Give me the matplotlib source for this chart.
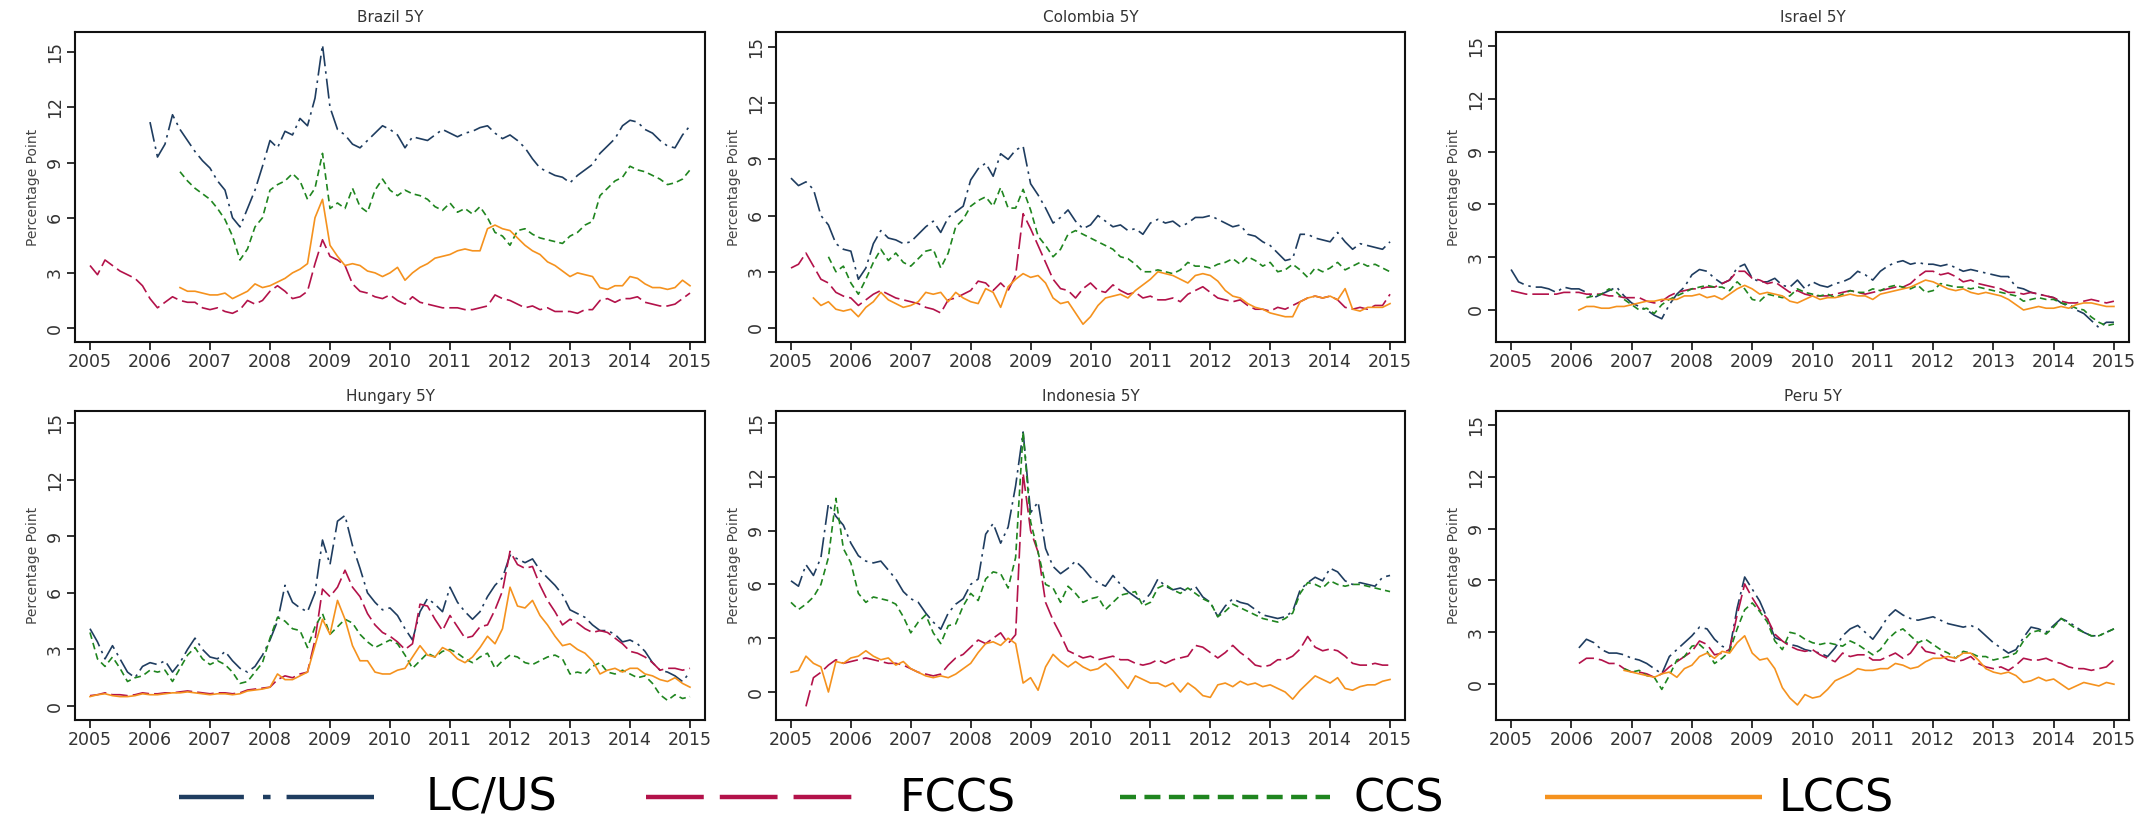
import numpy as np
import matplotlib
matplotlib.use("Agg")
import matplotlib.pyplot as plt
from matplotlib.lines import Line2D

# --- data: values read every 1/8 year, starting at the year given -------------
series_names = ["LC/US", "FCCS", "CCS", "LCCS"]
panel_titles = ["Brazil 5Y", "Colombia 5Y", "Israel 5Y", "Hungary 5Y", "Indonesia 5Y", "Peru 5Y"]
year_ticks = [2005, 2006, 2007, 2008, 2009, 2010, 2011, 2012, 2013, 2014, 2015]
y_ticks = [0, 3, 6, 9, 12, 15]

bra_start = [2006.0, 2005.0, 2006.5, 2006.5]
bra_lcus = [11.2, 9.3, 10.0, 11.6, 10.8, 10.2, 9.6, 9.1,
            8.7, 8.0, 7.5, 6.0, 5.5, 6.5, 7.5, 8.8,
            10.2, 9.8, 10.7, 10.5, 11.4, 11.0, 12.5, 15.4,
            12.0, 10.8, 10.5, 10.0, 9.8, 10.2, 10.6, 11.0,
            10.8, 10.5, 9.8, 10.4, 10.3, 10.2, 10.5, 10.8,
            10.6, 10.4, 10.6, 10.7, 10.9, 11.0, 10.6, 10.3,
            10.5, 10.2, 9.8, 9.2, 8.7, 8.5, 8.3, 8.2,
            7.9, 8.3, 8.6, 8.9, 9.5, 9.9, 10.3, 11.0,
            11.3, 11.2, 10.8, 10.6, 10.2, 9.9, 9.8, 10.5, 11.0]
bra_fccs = [3.4, 2.9, 3.7, 3.4, 3.1, 2.9, 2.7, 2.3,
            1.6, 1.1, 1.4, 1.7, 1.5, 1.4, 1.4, 1.1,
            1.0, 1.1, 0.9, 0.8, 1.0, 1.5, 1.3, 1.5,
            2.0, 2.3, 2.0, 1.6, 1.7, 2.0, 3.5, 4.8,
            3.9, 3.7, 3.4, 2.4, 2.0, 1.9, 1.7, 1.6,
            1.8, 1.5, 1.3, 1.7, 1.4, 1.3, 1.2, 1.1,
            1.1, 1.1, 1.0, 1.0, 1.1, 1.2, 1.8, 1.6,
            1.5, 1.3, 1.1, 1.2, 1.0, 1.1, 0.9, 0.9,
            0.9, 0.8, 1.0, 1.0, 1.5, 1.6, 1.4, 1.6,
            1.6, 1.7, 1.4, 1.3, 1.2, 1.2, 1.3, 1.6, 1.9]
bra_ccs = [8.5, 8.0, 7.6, 7.3,
           7.0, 6.5, 5.9, 5.0, 3.7, 4.3, 5.5, 6.0,
           7.5, 7.8, 8.0, 8.4, 8.0, 7.0, 7.6, 9.5,
           6.5, 6.8, 6.5, 7.6, 6.6, 6.3, 7.5, 8.1,
           7.5, 7.2, 7.5, 7.3, 7.2, 7.0, 6.6, 6.4,
           6.8, 6.3, 6.5, 6.2, 6.6, 6.0, 5.2, 5.0,
           4.5, 5.3, 5.4, 5.1, 4.9, 4.8, 4.7, 4.6,
           5.0, 5.2, 5.6, 5.8, 7.2, 7.6, 8.0, 8.2,
           8.8, 8.6, 8.5, 8.3, 8.1, 7.8, 7.9, 8.1, 8.6]
bra_lccs = [2.2, 2.0, 2.0, 1.9,
            1.8, 1.8, 1.9, 1.6, 1.8, 2.0, 2.4, 2.2,
            2.3, 2.5, 2.7, 3.0, 3.2, 3.5, 6.0, 7.0,
            4.5, 3.9, 3.4, 3.5, 3.4, 3.1, 3.0, 2.8,
            3.0, 3.3, 2.6, 3.0, 3.3, 3.5, 3.8, 3.9,
            4.0, 4.2, 4.3, 4.2, 4.2, 5.4, 5.6, 5.4,
            5.3, 4.9, 4.5, 4.2, 4.0, 3.6, 3.4, 3.1,
            2.8, 3.0, 2.9, 2.8, 2.2, 2.1, 2.3, 2.3,
            2.8, 2.7, 2.4, 2.2, 2.2, 2.1, 2.2, 2.6, 2.3]

col_start = [2005.0, 2005.0, 2005.625, 2005.375]
col_lcus = [8.0, 7.6, 7.8, 7.4, 6.0, 5.5, 4.5, 4.2,
            4.1, 2.6, 3.2, 4.5, 5.2, 4.8, 4.7, 4.5,
            4.6, 5.0, 5.4, 5.7, 5.1, 5.9, 6.2, 6.5,
            7.9, 8.5, 8.8, 8.1, 9.3, 9.0, 9.5, 9.7,
            7.7, 7.1, 6.4, 5.6, 5.9, 6.3, 5.7, 5.3,
            5.5, 6.0, 5.7, 5.4, 5.5, 5.2, 5.3, 5.0,
            5.6, 5.8, 5.6, 5.7, 5.4, 5.6, 5.9, 5.9,
            6.0, 5.8, 5.6, 5.4, 5.5, 5.0, 4.9, 4.6,
            4.4, 4.0, 3.6, 3.7, 5.0, 5.0, 4.8, 4.7,
            4.6, 5.1, 4.6, 4.2, 4.5, 4.4, 4.3, 4.2, 4.6]
col_fccs = [3.2, 3.4, 4.0, 3.3, 2.6, 2.4, 1.9, 1.7,
            1.6, 1.2, 1.5, 1.8, 2.0, 1.8, 1.6, 1.5,
            1.4, 1.3, 1.1, 1.0, 0.8, 1.5, 1.6, 1.8,
            2.0, 2.5, 2.4, 2.0, 2.4, 2.0, 2.8, 6.1,
            5.3, 4.4, 3.5, 2.6, 2.1, 2.0, 1.6, 2.1,
            2.4, 2.0, 1.9, 2.3, 2.0, 1.8, 1.9, 1.6,
            1.7, 1.5, 1.5, 1.6, 1.4, 1.8, 2.0, 2.2,
            1.9, 1.6, 1.5, 1.4, 1.5, 1.2, 1.0, 1.0,
            0.9, 1.1, 1.0, 1.2, 1.4, 1.6, 1.7, 1.6,
            1.7, 1.5, 1.1, 1.0, 1.1, 1.0, 1.2, 1.2, 1.8]
col_ccs = [3.8, 3.0, 3.3,
           2.4, 1.8, 2.6, 3.5, 4.2, 3.6, 4.0, 3.5,
           3.3, 3.7, 4.1, 4.2, 3.2, 4.0, 5.4, 5.8,
           6.5, 6.8, 7.0, 6.5, 7.5, 6.4, 6.4, 7.4,
           6.3, 4.9, 4.4, 3.8, 4.2, 5.0, 5.2, 5.0,
           4.8, 4.6, 4.4, 4.2, 3.8, 3.7, 3.4, 3.0,
           3.0, 3.1, 3.0, 2.9, 3.1, 3.5, 3.3, 3.3,
           3.2, 3.4, 3.5, 3.7, 3.4, 3.8, 3.6, 3.3,
           3.5, 3.0, 3.1, 3.4, 3.1, 2.7, 3.2, 3.0,
           3.2, 3.5, 3.1, 3.3, 3.5, 3.3, 3.4, 3.2, 3.0]
col_lccs = [1.6, 1.2, 1.4, 1.0, 0.9,
            1.0, 0.6, 1.1, 1.4, 1.9, 1.5, 1.3, 1.1,
            1.2, 1.4, 1.9, 1.8, 1.9, 1.4, 1.9, 1.6,
            1.4, 1.3, 2.1, 1.9, 1.1, 2.2, 2.6, 2.9,
            2.7, 2.8, 2.4, 1.6, 1.3, 1.4, 0.8, 0.2,
            0.6, 1.2, 1.6, 1.7, 1.8, 1.6, 2.0, 2.3,
            2.6, 3.0, 2.9, 2.8, 2.6, 2.4, 2.8, 2.9,
            2.8, 2.5, 2.0, 1.7, 1.6, 1.3, 1.1, 1.0,
            0.8, 0.7, 0.6, 0.6, 1.4, 1.6, 1.7, 1.6,
            1.7, 1.5, 2.1, 1.0, 0.9, 1.1, 1.1, 1.1, 1.3]

isr_start = [2005.0, 2005.0, 2006.25, 2006.125]
isr_lcus = [2.3, 1.6, 1.4, 1.3, 1.3, 1.2, 1.0, 1.3,
            1.2, 1.2, 1.0, 0.7, 0.9, 1.1, 1.3, 0.8,
            0.4, 0.2, 0.0, -0.3, -0.5, 0.3, 0.9, 1.3,
            2.0, 2.3, 2.2, 1.8, 1.5, 1.7, 2.4, 2.6,
            1.8, 1.6, 1.6, 1.8, 1.4, 1.3, 1.7, 1.2,
            1.6, 1.4, 1.3, 1.5, 1.6, 1.8, 2.2, 2.0,
            1.7, 2.2, 2.5, 2.7, 2.8, 2.6, 2.7, 2.6,
            2.6, 2.5, 2.6, 2.4, 2.2, 2.3, 2.2, 2.1,
            2.0, 1.9, 1.9, 1.3, 1.2, 1.0, 0.9, 0.8,
            0.7, 0.4, 0.2, 0.0, -0.2, -0.6, -1.0, -0.7, -0.7]
isr_fccs = [1.1, 1.0, 0.9, 0.9, 0.9, 0.9, 0.9, 1.0,
            1.0, 1.0, 0.9, 0.9, 0.9, 0.8, 0.8, 0.7,
            0.7, 0.7, 0.5, 0.4, 0.5, 0.8, 1.0, 1.1,
            1.2, 1.2, 1.3, 1.3, 1.5, 1.7, 2.2, 2.2,
            1.8, 1.7, 1.5, 1.6, 1.3, 1.0, 1.1, 0.9,
            0.8, 0.8, 0.8, 0.9, 1.0, 1.1, 1.0, 0.9,
            1.0, 1.1, 1.2, 1.3, 1.3, 1.5, 1.9, 2.2,
            2.2, 2.0, 2.1, 1.9, 1.6, 1.7, 1.5, 1.4,
            1.3, 1.2, 1.0, 1.0, 0.9, 1.0, 0.9, 0.8,
            0.7, 0.5, 0.4, 0.4, 0.5, 0.6, 0.5, 0.4, 0.5]
isr_ccs = [0.7, 0.8, 0.9, 1.2, 1.0, 0.6,
           0.3, 0.0, 0.1, -0.2, 0.3, 0.6, 0.8, 1.0,
           1.2, 1.3, 1.4, 1.3, 1.3, 1.1, 1.6, 1.2,
           0.6, 0.5, 0.9, 0.8, 0.7, 0.8, 1.2, 1.0,
           0.9, 0.8, 0.9, 0.7, 0.9, 1.1, 1.0, 1.0,
           1.2, 1.1, 1.3, 1.4, 1.3, 1.2, 1.4, 1.0,
           1.1, 1.5, 1.4, 1.3, 1.3, 1.2, 1.3, 1.2,
           1.1, 1.0, 0.9, 0.8, 0.5, 0.6, 0.7, 0.6,
           0.6, 0.4, 0.3, 0.1, 0.0, -0.4, -0.7, -0.9, -0.8]
isr_lccs = [0.0, 0.2, 0.2, 0.1, 0.1, 0.2, 0.2,
            0.3, 0.4, 0.5, 0.5, 0.6, 0.6, 0.6, 0.8,
            0.8, 0.9, 0.7, 0.8, 0.6, 0.9, 1.2, 1.4,
            1.2, 0.9, 1.0, 0.9, 0.8, 0.5, 0.4, 0.6,
            0.8, 0.6, 0.7, 0.7, 0.8, 0.9, 0.8, 0.8,
            0.6, 0.9, 1.0, 1.1, 1.2, 1.3, 1.5, 1.7,
            1.6, 1.4, 1.2, 1.1, 1.2, 1.0, 0.9, 1.0,
            0.9, 0.8, 0.6, 0.3, 0.0, 0.1, 0.2, 0.1,
            0.1, 0.2, 0.1, 0.3, 0.4, 0.4, 0.3, 0.2, 0.2]

hun_start = [2005.0, 2005.0, 2005.0, 2005.0]
hun_lcus = [4.1, 3.4, 2.5, 3.2, 2.5, 1.8, 1.5, 2.1,
            2.3, 2.2, 2.4, 1.8, 2.3, 3.0, 3.6, 3.0,
            2.6, 2.5, 2.9, 2.4, 2.0, 1.8, 2.1, 2.7,
            3.5, 4.5, 6.4, 5.5, 5.2, 5.0, 6.0, 8.8,
            7.5, 9.8, 10.1, 8.5, 7.3, 6.0, 5.5, 5.1,
            5.2, 4.8, 4.1, 3.5, 5.0, 5.7, 5.4, 5.0,
            6.3, 5.5, 5.0, 4.6, 5.0, 5.8, 6.4, 6.8,
            8.0, 7.8, 7.6, 7.8, 7.2, 6.8, 6.4, 5.9,
            5.1, 4.9, 4.7, 4.3, 4.0, 4.0, 3.8, 3.4,
            3.5, 3.3, 2.9, 2.3, 1.9, 1.8, 1.6, 1.3, 1.8]
hun_fccs = [0.55, 0.6, 0.7, 0.6, 0.6, 0.55, 0.6, 0.7,
            0.65, 0.65, 0.7, 0.7, 0.75, 0.8, 0.75, 0.7,
            0.65, 0.7, 0.7, 0.65, 0.7, 0.85, 0.9, 0.95,
            1.0, 1.4, 1.6, 1.5, 1.7, 1.8, 3.5, 6.2,
            5.8, 6.3, 7.2, 6.3, 5.8, 4.9, 4.3, 3.9,
            3.7, 3.4, 3.0, 3.3, 5.4, 5.3, 4.6, 4.0,
            4.8, 4.2, 3.6, 3.7, 4.2, 4.3, 5.1, 6.1,
            8.2, 7.5, 7.3, 7.4, 6.4, 5.6, 5.0, 4.3,
            4.6, 4.4, 4.1, 3.9, 4.0, 3.9, 3.6, 3.3,
            2.9, 2.8, 2.6, 2.3, 1.9, 2.0, 2.0, 1.9, 2.0]
hun_ccs = [3.9, 2.5, 2.1, 2.6, 2.0, 1.3, 1.5, 1.6,
           1.9, 1.8, 1.9, 1.3, 2.0, 2.7, 3.1, 2.5,
           2.2, 2.4, 2.2, 1.8, 1.2, 1.3, 1.8, 2.3,
           3.6, 4.7, 4.5, 4.1, 4.0, 3.1, 4.2, 4.9,
           3.8, 4.2, 4.6, 4.4, 3.8, 3.4, 3.1, 3.3,
           3.5, 3.3, 2.7, 2.0, 2.4, 2.8, 2.6, 2.9,
           3.0, 2.8, 2.5, 2.3, 2.6, 2.8, 2.0, 2.4,
           2.7, 2.6, 2.3, 2.2, 2.4, 2.6, 2.7, 2.5,
           1.7, 1.8, 1.7, 2.1, 2.3, 1.8, 1.7, 1.9,
           1.7, 1.5, 1.6, 1.2, 0.6, 0.3, 0.6, 0.4, 0.5]
hun_lccs = [0.5, 0.6, 0.65, 0.55, 0.5, 0.5, 0.55, 0.65,
            0.6, 0.6, 0.65, 0.7, 0.7, 0.75, 0.7, 0.65,
            0.6, 0.65, 0.65, 0.6, 0.65, 0.8, 0.85, 0.9,
            1.0, 1.7, 1.4, 1.4, 1.6, 1.8, 3.2, 4.6,
            3.8, 5.6, 4.6, 3.2, 2.4, 2.4, 1.8, 1.7,
            1.7, 1.9, 2.0, 2.6, 3.2, 2.7, 2.6, 3.1,
            2.9, 2.5, 2.3, 2.6, 3.1, 3.7, 3.3, 4.1,
            6.3, 5.3, 5.2, 5.6, 4.8, 4.3, 3.7, 3.2,
            3.3, 3.0, 2.8, 2.4, 1.7, 1.9, 2.0, 1.8,
            2.0, 2.0, 1.7, 1.6, 1.4, 1.3, 1.5, 1.2, 1.0]

idn_start = [2005.0, 2005.25, 2005.0, 2005.0]
idn_lcus = [6.2, 5.9, 7.1, 6.5, 7.5, 10.5, 9.8, 9.3,
            8.3, 7.6, 7.3, 7.2, 7.3, 6.8, 6.3, 5.6,
            5.2, 5.0, 4.4, 3.9, 3.5, 4.4, 4.9, 5.2,
            6.0, 6.3, 8.8, 9.4, 8.3, 9.2, 11.5, 14.5,
            10.0, 10.6, 8.0, 7.0, 6.6, 6.9, 7.3, 6.9,
            6.4, 6.1, 5.9, 6.5, 6.0, 5.6, 5.3, 5.0,
            5.5, 6.3, 5.9, 5.7, 5.8, 5.6, 5.9, 5.3,
            5.0, 4.2, 4.8, 5.2, 5.0, 4.9, 4.6, 4.3,
            4.2, 4.1, 4.2, 4.5, 5.7, 6.1, 6.4, 6.2,
            6.9, 6.7, 6.2, 6.0, 6.1, 6.0, 5.9, 6.4, 6.5]
idn_fccs = [-0.8, 0.8, 1.1, 1.5, 1.8, 1.6,
            1.7, 1.8, 1.9, 1.8, 1.7, 1.6, 1.6, 1.5,
            1.3, 1.1, 1.0, 0.9, 1.0, 1.5, 1.9, 2.1,
            2.5, 2.9, 2.7, 3.0, 3.3, 2.7, 3.2, 12.2,
            9.0, 7.8, 5.0, 4.0, 3.2, 2.3, 2.1, 1.9,
            2.0, 1.8, 1.9, 2.0, 1.8, 1.8, 1.6, 1.5,
            1.6, 1.8, 1.6, 1.8, 1.9, 2.0, 2.6, 2.5,
            2.2, 1.9, 2.2, 2.6, 2.2, 1.9, 1.5, 1.4,
            1.5, 1.8, 1.8, 2.0, 2.4, 3.1, 2.5, 2.3,
            2.4, 2.3, 2.0, 1.6, 1.5, 1.5, 1.6, 1.5, 1.5]
idn_ccs = [5.0, 4.6, 4.9, 5.3, 6.0, 7.5, 10.8, 8.0,
           7.2, 5.5, 5.0, 5.3, 5.2, 5.1, 4.9, 4.2,
           3.3, 3.9, 4.3, 3.3, 2.7, 3.7, 3.8, 4.8,
           5.5, 5.1, 6.3, 6.7, 6.6, 5.8, 7.5, 14.5,
           9.5, 7.8, 6.0, 5.8, 5.0, 5.9, 5.5, 5.0,
           5.2, 5.3, 4.6, 5.0, 5.4, 5.5, 5.6, 4.8,
           5.0, 5.8, 6.0, 5.7, 5.5, 5.8, 5.5, 5.2,
           5.0, 4.2, 4.5, 4.9, 4.7, 4.5, 4.3, 4.1,
           4.0, 3.9, 4.1, 4.4, 5.5, 6.1, 6.0, 5.8,
           6.2, 6.0, 5.9, 6.0, 6.0, 5.9, 5.8, 5.7, 5.6]
idn_lccs = [1.1, 1.2, 2.0, 1.6, 1.4, 0.0, 1.7, 1.6,
            1.9, 2.0, 2.3, 2.0, 1.8, 1.9, 1.5, 1.7,
            1.3, 1.1, 0.9, 0.8, 0.9, 0.8, 1.0, 1.3,
            1.6, 2.2, 2.7, 2.8, 2.6, 3.0, 2.7, 0.5,
            0.8, 0.1, 1.4, 2.1, 1.7, 1.4, 1.7, 1.4,
            1.2, 1.3, 1.6, 1.2, 0.7, 0.2, 0.9, 0.7,
            0.5, 0.5, 0.3, 0.5, 0.0, 0.5, 0.2, -0.2,
            -0.3, 0.4, 0.5, 0.3, 0.6, 0.4, 0.5, 0.3,
            0.4, 0.2, 0.0, -0.4, 0.1, 0.5, 0.9, 0.7,
            0.5, 0.8, 0.2, 0.1, 0.3, 0.4, 0.4, 0.6, 0.7]

per_start = [2006.125, 2006.125, 2006.875, 2006.875]
per_lcus = [2.1, 2.6, 2.4, 2.0, 1.8, 1.8, 1.7,
            1.5, 1.4, 1.2, 0.9, 0.6, 1.6, 2.0, 2.4,
            2.8, 3.3, 3.2, 2.6, 2.2, 2.0, 4.4, 6.2,
            5.5, 4.8, 3.8, 2.7, 2.5, 2.3, 2.2, 2.0,
            1.9, 1.8, 1.6, 2.1, 2.8, 3.2, 3.4, 3.0,
            2.6, 3.2, 3.9, 4.3, 4.0, 3.8, 3.7, 3.8,
            3.9, 3.7, 3.5, 3.4, 3.3, 3.4, 3.2, 2.8,
            2.4, 2.1, 1.8, 2.0, 2.7, 3.3, 3.2, 3.0,
            3.4, 3.8, 3.6, 3.3, 3.0, 2.8, 2.8, 3.0, 3.2]
per_fccs = [1.2, 1.5, 1.5, 1.4, 1.2, 1.2, 0.9,
            0.7, 0.7, 0.6, 0.4, 0.6, 1.0, 1.3, 1.6,
            1.9, 2.5, 2.3, 1.7, 1.8, 2.0, 4.0, 5.8,
            5.0, 4.3, 3.8, 2.9, 2.5, 2.2, 2.0, 1.9,
            2.0, 1.7, 1.5, 1.3, 1.8, 1.6, 1.7, 1.7,
            1.4, 1.4, 1.6, 1.8, 1.5, 1.8, 2.4, 1.9,
            1.8, 1.7, 1.4, 1.3, 1.4, 1.6, 1.2, 1.0,
            0.9, 1.0, 0.8, 1.1, 1.5, 1.4, 1.4, 1.5,
            1.3, 1.2, 1.0, 0.9, 0.9, 0.8, 0.9, 1.0, 1.4]
per_ccs = [0.9,
           0.7, 0.8, 0.5, 0.4, -0.3, 0.5, 1.4, 1.6,
           2.2, 2.3, 1.9, 1.2, 1.5, 1.9, 3.2, 4.3,
           4.7, 4.2, 3.6, 2.5, 2.0, 3.0, 2.9, 2.6,
           2.4, 2.3, 2.4, 2.3, 2.2, 2.5, 2.3, 2.0,
           1.7, 2.0, 2.6, 3.0, 3.2, 2.8, 2.4, 2.6,
           2.3, 2.0, 1.8, 1.5, 1.9, 1.8, 1.6, 1.6,
           1.4, 1.5, 1.6, 1.8, 2.5, 3.0, 3.1, 2.9,
           3.3, 3.8, 3.5, 3.2, 3.0, 2.8, 2.8, 3.0, 3.2]
per_lccs = [0.8,
            0.7, 0.6, 0.5, 0.4, 0.6, 0.7, 0.4, 0.9,
            1.1, 1.6, 1.8, 1.5, 1.9, 1.8, 2.4, 2.8,
            1.8, 1.4, 1.5, 0.9, -0.2, -0.8, -1.2, -0.6,
            -0.8, -0.7, -0.3, 0.2, 0.4, 0.6, 0.9, 0.8,
            0.8, 0.9, 0.9, 1.2, 1.1, 0.9, 1.0, 1.3,
            1.5, 1.5, 1.6, 1.5, 1.8, 1.8, 1.4, 0.9,
            0.7, 0.6, 0.7, 0.5, 0.1, 0.2, 0.4, 0.2,
            0.3, 0.0, -0.3, -0.1, 0.1, 0.0, -0.1, 0.1, 0.0]

panels = [
    (bra_start, [bra_lcus, bra_fccs, bra_ccs, bra_lccs], (-0.76, 16.1)),
    (col_start, [col_lcus, col_fccs, col_ccs, col_lccs], (-0.75, 15.8)),
    (isr_start, [isr_lcus, isr_fccs, isr_ccs, isr_lccs], (-1.82, 15.8)),
    (hun_start, [hun_lcus, hun_fccs, hun_ccs, hun_lccs], (-0.74, 15.64)),
    (idn_start, [idn_lcus, idn_fccs, idn_ccs, idn_lccs], (-1.56, 15.67)),
    (per_start, [per_lcus, per_fccs, per_ccs, per_lccs], (-2.07, 15.8)),
]

# --- style ---------------------------------------------------------------------
colors = ["#1f3d60", "#b3124a", "#1f851f", "#f5921e"]
dashes_panel = [(12, 3, 1.5, 3), (10, 3), (4, 2.5), None]
dashes_legend = [(14.6, 4.3, 1.7, 3.6, 30, 5), (13, 3.6), (3.6, 1.9), None]

plt.rcParams["font.family"] = ["DejaVu Sans"]

fig = plt.figure(figsize=(21.54, 8.23), dpi=100)

W, H = 2154, 823
col_px = [(75, 630), (776, 629), (1496, 633)]
row_px = [(32, 342), (411, 720)]

for i, (starts, vals, ylim) in enumerate(panels):
    r, c = divmod(i, 3)
    left, width = col_px[c]
    top, bottom = row_px[r]
    ax = fig.add_axes([left / W, 1 - bottom / H, width / W, (bottom - top) / H])
    for k in range(4):
        y = np.array(vals[k], dtype=float)
        x = starts[k] + np.arange(len(y)) / 8.0
        ln, = ax.plot(x, y, color=colors[k], lw=1.2)
        if dashes_panel[k] is not None:
            ln.set_dashes(dashes_panel[k])
    ax.set_xlim(2004.75, 2015.25)
    ax.set_ylim(*ylim)
    ax.set_xticks(year_ticks)
    ax.set_yticks(y_ticks)
    ax.set_yticklabels([str(v) for v in y_ticks], rotation=90, va="center")
    ax.tick_params(axis="both", labelsize=12.5, colors="#333333", length=6,
                   width=1.2, pad=2)
    ax.tick_params(axis="both", color="#111111")
    for s in ax.spines.values():
        s.set_linewidth(1.5)
        s.set_color("#111111")
    ax.set_ylabel("Percentage Point", fontsize=10, color="#444444", labelpad=4)
    ax.set_title(panel_titles[i], fontsize=11, color="#333333", pad=7)

# legend drawn along the bottom
leg_line = [(179, 374), (646, 863), (1120, 1330), (1545, 1762)]
leg_text_x = [426, 900, 1353, 1779]
leg_y = 1 - 797 / H
for k in range(4):
    x0, x1 = leg_line[k]
    ln = Line2D([x0 / W, x1 / W], [leg_y, leg_y], transform=fig.transFigure,
                color=colors[k], lw=3.2, solid_capstyle="butt", dash_capstyle="butt")
    if dashes_legend[k] is not None:
        ln.set_dashes(dashes_legend[k])
    fig.add_artist(ln)
    fig.text(leg_text_x[k] / W, 1 - 811 / H, series_names[k], fontsize=32,
             color="black", ha="left", va="baseline")

fig.savefig("out.png", dpi=100)
